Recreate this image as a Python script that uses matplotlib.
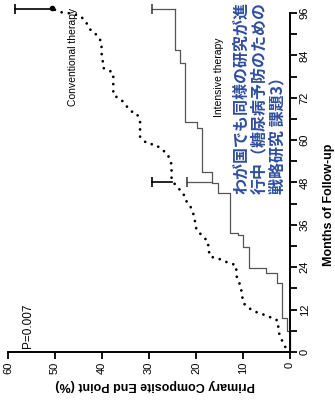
import matplotlib.pyplot as plt
import numpy as np

conv_months = [0, 0.6, 2.5, 4.3, 6.2, 8.6, 9.5, 10.0, 10.8, 11.4,
               12.4, 13.8, 15.2, 17.1, 19.0, 21.0, 24.6, 25.6, 26.5, 27.0,
               29.4, 31.2, 34.6, 36.9, 39.3, 41.6, 43.1, 45.0, 46.4, 48.7,
               53.0, 54.4, 56.3, 57.7, 58.6, 59.1, 61.0, 65.2, 67.6, 68.1,
               69.5, 70.9, 71.9, 72.8, 79.0, 79.9, 80.4, 83.2, 84.6, 87.5,
               88.4, 89.8, 90.7, 92.2, 93.9, 95.2, 95.9, 96.1, 96.4, 97.4]
conv_pct = [0, 0.7, 1.4, 2.1, 2.5, 2.5, 3.2, 4.6, 6.0, 7.4,
            8.7, 9.9, 10.1, 10.3, 10.6, 11.3, 11.5, 13.8, 15.3, 17.0,
            17.4, 17.4, 19.9, 20.2, 20.6, 21.3, 22.3, 22.7, 23.8, 25.2,
            25.2, 25.5, 26.2, 27.7, 28.4, 30.5, 31.9, 31.9, 32.6, 33.7,
            34.7, 35.5, 36.5, 37.6, 37.6, 38.7, 39.7, 39.9, 40.1, 40.1,
            40.4, 41.1, 42.2, 42.9, 43.6, 44.7, 46.8, 48.2, 49.3, 50.7]

int_months = [0, 5.9, 9.6, 19.5, 22.4, 23.8, 29.7, 33.1, 33.7, 45.0,
              47.9, 51.0, 63.5, 65.2, 81.9, 85.6, 97.2]
int_pct = [0, 0.6, 1.7, 2.8, 5.1, 8.7, 10.0, 11.1, 12.8, 15.3,
           16.6, 18.7, 19.8, 22.3, 23.4, 24.5, 24.5]

err_months = [48.2, 97.2]
conv_err_lo = [25.2, 50.7]
conv_err_hi = [29.4, 58.5]
int_err_lo = [16.6, 24.5]
int_err_hi = [21.9, 29.4]

pct_ticks = [0, 10, 20, 30, 40, 50, 60]
month_ticks = [0, 12, 24, 36, 48, 60, 72, 84, 96]

narrow = ['Liberation Sans Narrow', 'Liberation Sans', 'DejaVu Sans']
plt.rcParams['font.family'] = narrow

W, H = 335, 408
fig = plt.figure(figsize=(W / 100, H / 100), dpi=100)
fig.patch.set_facecolor('white')
# the scanned page is turned a quarter turn: % runs right-to-left, months bottom-to-top
ax = fig.add_axes([8 / W, 56 / H, 282 / W, 339 / H])
ax.set_xlim(60, 0)
ax.set_ylim(0, 96)

ax.plot(conv_pct, conv_months, color='black', lw=2.0,
        linestyle=(0, (0.01, 2.6)), dash_capstyle='round', clip_on=False)
ax.plot(conv_pct[-1], conv_months[-1], 'o', color='black', ms=3, clip_on=False)
ax.plot(int_pct, int_months, color='#555555', lw=0.9,
        drawstyle='steps-pre', clip_on=False)

for i in range(len(err_months)):
    ax.plot([conv_err_lo[i], conv_err_hi[i]], [err_months[i]] * 2,
            color='black', lw=1.2, clip_on=False)
    ax.plot(conv_err_hi[i], err_months[i], marker='|', ms=7, mew=1.2,
            color='black', clip_on=False)
    ax.plot([int_err_lo[i], int_err_hi[i]], [err_months[i]] * 2,
            color='#555555', lw=0.9, clip_on=False)
    ax.plot(int_err_hi[i], err_months[i], marker='|', ms=7, mew=1.1,
            color='#333333', clip_on=False)

for s in ['top', 'left']:
    ax.spines[s].set_visible(False)
ax.spines['bottom'].set_linewidth(1.4)
ax.spines['right'].set_linewidth(1.4)

ax.set_xticks(pct_ticks)
ax.set_xticklabels([str(t) for t in pct_ticks], rotation=90)
ax.yaxis.tick_right()
ax.set_yticks(month_ticks)
ax.set_yticks(np.arange(6, 96, 12), minor=True)
ax.set_yticklabels([str(t) for t in month_ticks], rotation=90, va='center')
ax.tick_params(axis='both', which='both', direction='out', length=5,
               width=1.3, labelsize=8, pad=2)

ax.text(46.2, 83.6, 'Conventional therapy', rotation=90, ha='center',
        va='center', fontsize=7.5)
ax.text(15.1, 77.9, 'Intensive therapy', rotation=90, ha='center',
        va='center', fontsize=7.5)
ax.text(55.7, 1.0, 'P=0.007', rotation=90, ha='center', va='bottom',
        fontsize=8.5)

jp = ['わが国でも同様の研究が進', '行中（糖尿病予防のための', '戦略研究 課題3）']
for k, line in enumerate(jp):
    fig.text((241 + 18 * k) / W, 1 - 194 / H, line, rotation=90,
             ha='center', va='bottom', color='#2f4f9f', fontsize=11.5,
             fontweight='bold', family=['Noto Sans CJK JP', 'DejaVu Sans'])

fig.text(155 / W, 1 - 385 / H, 'Primary Composite End Point (%)',
         rotation=180, ha='center', va='center', fontsize=9,
         fontweight='bold', family=['Liberation Sans', 'DejaVu Sans'])
fig.text(329 / W, 1 - 205 / H, 'Months of Follow-up', rotation=90,
         ha='center', va='center', fontsize=9, fontweight='bold',
         family=['Liberation Sans', 'DejaVu Sans'])

fig.savefig('out.png', dpi=100)
